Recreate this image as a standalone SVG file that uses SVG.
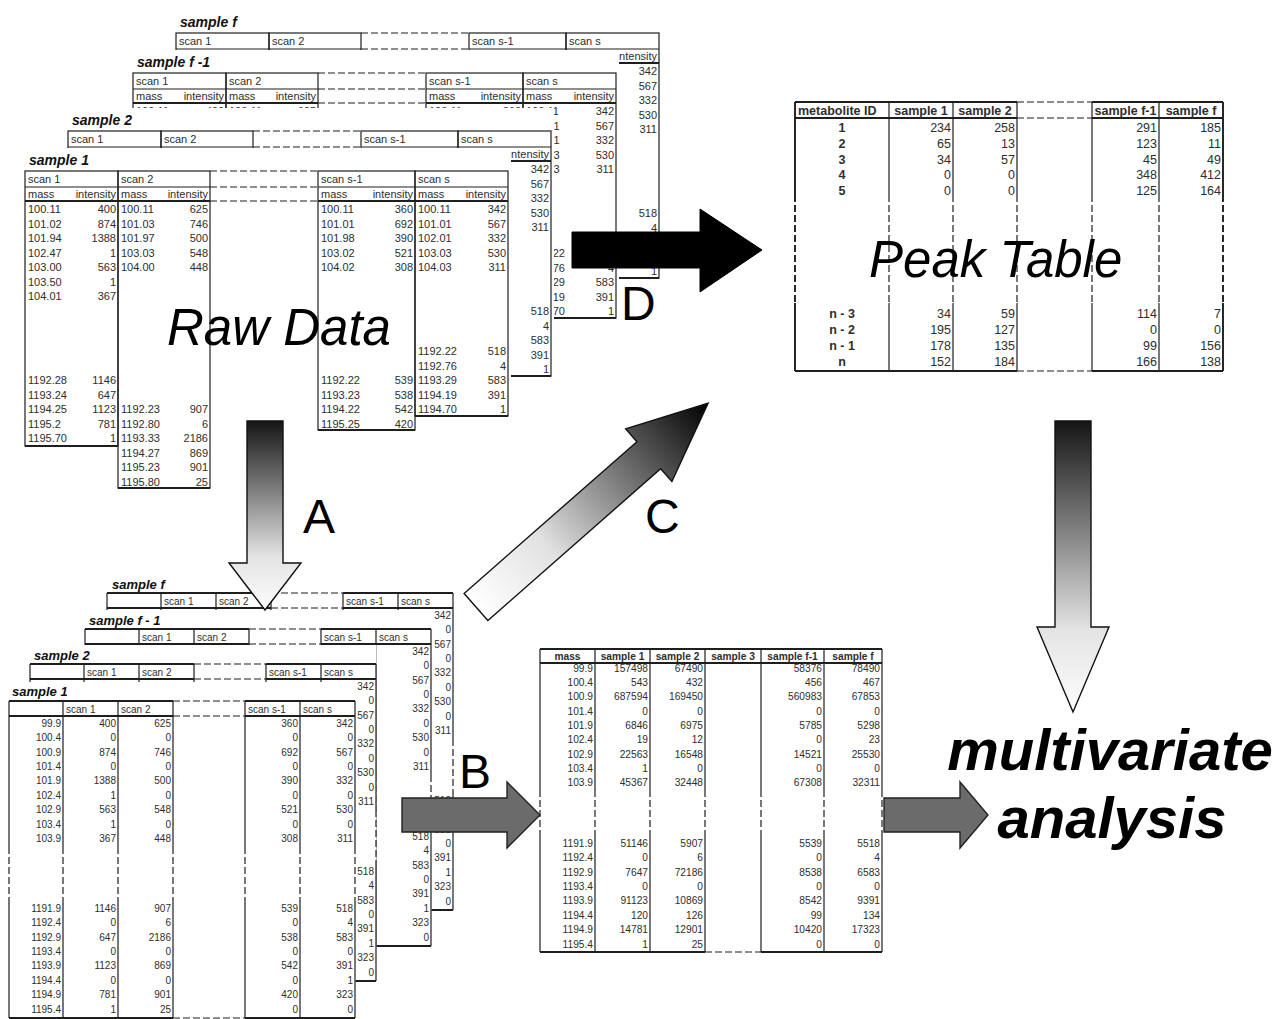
<svg xmlns="http://www.w3.org/2000/svg" width="1279" height="1019" viewBox="0 0 1279 1019">
<style>
.tx{font-family:"Liberation Sans",Arial,Helvetica,sans-serif;fill:#2e2e2e}
.rw{font-size:11px}
.al{font-size:10px}
.mt{font-size:10.2px}
.pk{font-size:12.5px}
.e{text-anchor:end}
.m{text-anchor:middle}
.b{font-weight:bold}
.ttl{font-family:"Liberation Sans",Arial,Helvetica,sans-serif;font-weight:bold;font-style:italic;fill:#111}
.ln{stroke:#1e1e1e;stroke-width:1.2;fill:none}
.th{stroke-width:1.9}
.ds{stroke-dasharray:7 3}
.cv{fill:#fff}
.big{font-family:"Liberation Sans",Arial,Helvetica,sans-serif;fill:#000}
.arw{stroke:#111;stroke-width:1.4}
</style>
<defs>
<linearGradient id="gDown" x1="0" y1="0" x2="0" y2="1">
<stop offset="0" stop-color="#151515"/>
<stop offset="0.72" stop-color="#e4e4e4"/>
<stop offset="1" stop-color="#fdfdfd"/>
</linearGradient>
<linearGradient id="gDiag" x1="0" y1="0" x2="1" y2="0">
<stop offset="0" stop-color="#ffffff"/>
<stop offset="0.3" stop-color="#e2e2e2"/>
<stop offset="1" stop-color="#000000"/>
</linearGradient>

<!-- one raw scan table (mass / intensity per scan) -->
<g id="rawTable">
<rect class="cv" x="-5" y="-23" width="491" height="343"/>
<g class="ln">
<rect x="0" y="0" width="93" height="275"/>
<rect x="93" y="0" width="92" height="317"/>
<rect x="293" y="0" width="97" height="259"/>
<rect x="390" y="0" width="93" height="245"/>
<path d="M0 16H185M293 16H483"/>
<path class="th" d="M0 30H185M293 30H483M0 275H93M93 317H185M293 259H390M390 245H483"/>
<path class="ds" d="M185 0H293M185 16H293M185 30H293"/>
</g>
<g class="tx rw">
<text x="3" y="12">scan 1</text>
<text x="96" y="12">scan 2</text>
<text x="296" y="12">scan s-1</text>
<text x="393" y="12">scan s</text>
<text x="3" y="27">mass</text><text class="e" x="91" y="27">intensity</text>
<text x="96" y="27">mass</text><text class="e" x="183" y="27">intensity</text>
<text x="296" y="27">mass</text><text class="e" x="388" y="27">intensity</text>
<text x="393" y="27">mass</text><text class="e" x="481" y="27">intensity</text>
<text><tspan x="3" y="42">100.11</tspan><tspan x="3" y="56.5">101.02</tspan><tspan x="3" y="71">101.94</tspan><tspan x="3" y="85.5">102.47</tspan><tspan x="3" y="100">103.00</tspan><tspan x="3" y="114.5">103.50</tspan><tspan x="3" y="129">104.01</tspan><tspan x="3" y="213">1192.28</tspan><tspan x="3" y="227.5">1193.24</tspan><tspan x="3" y="242">1194.25</tspan><tspan x="3" y="256.5">1195.2</tspan><tspan x="3" y="271">1195.70</tspan></text>
<text class="e"><tspan x="91" y="42">400</tspan><tspan x="91" y="56.5">874</tspan><tspan x="91" y="71">1388</tspan><tspan x="91" y="85.5">1</tspan><tspan x="91" y="100">563</tspan><tspan x="91" y="114.5">1</tspan><tspan x="91" y="129">367</tspan><tspan x="91" y="213">1146</tspan><tspan x="91" y="227.5">647</tspan><tspan x="91" y="242">1123</tspan><tspan x="91" y="256.5">781</tspan><tspan x="91" y="271">1</tspan></text>
<text><tspan x="96" y="42">100.11</tspan><tspan x="96" y="56.5">101.03</tspan><tspan x="96" y="71">101.97</tspan><tspan x="96" y="85.5">103.03</tspan><tspan x="96" y="100">104.00</tspan><tspan x="96" y="242">1192.23</tspan><tspan x="96" y="256.5">1192.80</tspan><tspan x="96" y="271">1193.33</tspan><tspan x="96" y="285.5">1194.27</tspan><tspan x="96" y="300">1195.23</tspan><tspan x="96" y="314.5">1195.80</tspan></text>
<text class="e"><tspan x="183" y="42">625</tspan><tspan x="183" y="56.5">746</tspan><tspan x="183" y="71">500</tspan><tspan x="183" y="85.5">548</tspan><tspan x="183" y="100">448</tspan><tspan x="183" y="242">907</tspan><tspan x="183" y="256.5">6</tspan><tspan x="183" y="271">2186</tspan><tspan x="183" y="285.5">869</tspan><tspan x="183" y="300">901</tspan><tspan x="183" y="314.5">25</tspan></text>
<text><tspan x="296" y="42">100.11</tspan><tspan x="296" y="56.5">101.01</tspan><tspan x="296" y="71">101.98</tspan><tspan x="296" y="85.5">103.02</tspan><tspan x="296" y="100">104.02</tspan><tspan x="296" y="213">1192.22</tspan><tspan x="296" y="227.5">1193.23</tspan><tspan x="296" y="242">1194.22</tspan><tspan x="296" y="256.5">1195.25</tspan></text>
<text class="e"><tspan x="388" y="42">360</tspan><tspan x="388" y="56.5">692</tspan><tspan x="388" y="71">390</tspan><tspan x="388" y="85.5">521</tspan><tspan x="388" y="100">308</tspan><tspan x="388" y="213">539</tspan><tspan x="388" y="227.5">538</tspan><tspan x="388" y="242">542</tspan><tspan x="388" y="256.5">420</tspan></text>
<text><tspan x="393" y="42">100.11</tspan><tspan x="393" y="56.5">101.01</tspan><tspan x="393" y="71">102.01</tspan><tspan x="393" y="85.5">103.03</tspan><tspan x="393" y="100">104.03</tspan><tspan x="393" y="184">1192.22</tspan><tspan x="393" y="198.5">1192.76</tspan><tspan x="393" y="213">1193.29</tspan><tspan x="393" y="227.5">1194.19</tspan><tspan x="393" y="242">1194.70</tspan></text>
<text class="e"><tspan x="481" y="42">342</tspan><tspan x="481" y="56.5">567</tspan><tspan x="481" y="71">332</tspan><tspan x="481" y="85.5">530</tspan><tspan x="481" y="100">311</tspan><tspan x="481" y="184">518</tspan><tspan x="481" y="198.5">4</tspan><tspan x="481" y="213">583</tspan><tspan x="481" y="227.5">391</tspan><tspan x="481" y="242">1</tspan></text>
</g>
</g>

<!-- one mass-binned table (rows = mass bins, columns = scans) -->
<g id="alTable">
<rect class="cv" x="-3" y="-19" width="349.5" height="337"/>
<g class="ln">
<path d="M0 0V146M54 0V146M109 0V146M164 0V146M236 0V146M291 0V146M346 0V146M0 196V317M54 196V317M109 196V317M164 196V317M236 196V317M291 196V317M346 196V317"/>
<path class="ds" d="M0 146V196M54 146V196M109 146V196M164 146V196M236 146V196M291 146V196M346 146V196M164 0H236M164 15H236M164 317H236"/>
<path class="th" d="M0 0H164M236 0H346M0 15H164M236 15H346M0 317H164M236 317H346"/>
</g>
<g class="tx al">
<text x="57" y="11.5">scan 1</text>
<text x="112" y="11.5">scan 2</text>
<text x="239" y="11.5">scan s-1</text>
<text x="294" y="11.5">scan s</text>
<text class="e"><tspan x="52" y="25.7">99.9</tspan><tspan x="52" y="40.1">100.4</tspan><tspan x="52" y="54.5">100.9</tspan><tspan x="52" y="68.9">101.4</tspan><tspan x="52" y="83.3">101.9</tspan><tspan x="52" y="97.7">102.4</tspan><tspan x="52" y="112.1">102.9</tspan><tspan x="52" y="126.5">103.4</tspan><tspan x="52" y="140.9">103.9</tspan><tspan x="52" y="210.7">1191.9</tspan><tspan x="52" y="225.1">1192.4</tspan><tspan x="52" y="239.5">1192.9</tspan><tspan x="52" y="253.9">1193.4</tspan><tspan x="52" y="268.3">1193.9</tspan><tspan x="52" y="282.7">1194.4</tspan><tspan x="52" y="297.1">1194.9</tspan><tspan x="52" y="311.5">1195.4</tspan></text>
<text class="e"><tspan x="107" y="25.7">400</tspan><tspan x="107" y="40.1">0</tspan><tspan x="107" y="54.5">874</tspan><tspan x="107" y="68.9">0</tspan><tspan x="107" y="83.3">1388</tspan><tspan x="107" y="97.7">1</tspan><tspan x="107" y="112.1">563</tspan><tspan x="107" y="126.5">1</tspan><tspan x="107" y="140.9">367</tspan><tspan x="107" y="210.7">1146</tspan><tspan x="107" y="225.1">0</tspan><tspan x="107" y="239.5">647</tspan><tspan x="107" y="253.9">0</tspan><tspan x="107" y="268.3">1123</tspan><tspan x="107" y="282.7">0</tspan><tspan x="107" y="297.1">781</tspan><tspan x="107" y="311.5">1</tspan></text>
<text class="e"><tspan x="162" y="25.7">625</tspan><tspan x="162" y="40.1">0</tspan><tspan x="162" y="54.5">746</tspan><tspan x="162" y="68.9">0</tspan><tspan x="162" y="83.3">500</tspan><tspan x="162" y="97.7">0</tspan><tspan x="162" y="112.1">548</tspan><tspan x="162" y="126.5">0</tspan><tspan x="162" y="140.9">448</tspan><tspan x="162" y="210.7">907</tspan><tspan x="162" y="225.1">6</tspan><tspan x="162" y="239.5">2186</tspan><tspan x="162" y="253.9">0</tspan><tspan x="162" y="268.3">869</tspan><tspan x="162" y="282.7">0</tspan><tspan x="162" y="297.1">901</tspan><tspan x="162" y="311.5">25</tspan></text>
<text class="e"><tspan x="289" y="25.7">360</tspan><tspan x="289" y="40.1">0</tspan><tspan x="289" y="54.5">692</tspan><tspan x="289" y="68.9">0</tspan><tspan x="289" y="83.3">390</tspan><tspan x="289" y="97.7">0</tspan><tspan x="289" y="112.1">521</tspan><tspan x="289" y="126.5">0</tspan><tspan x="289" y="140.9">308</tspan><tspan x="289" y="210.7">539</tspan><tspan x="289" y="225.1">0</tspan><tspan x="289" y="239.5">538</tspan><tspan x="289" y="253.9">0</tspan><tspan x="289" y="268.3">542</tspan><tspan x="289" y="282.7">0</tspan><tspan x="289" y="297.1">420</tspan><tspan x="289" y="311.5">0</tspan></text>
<text class="e"><tspan x="344" y="25.7">342</tspan><tspan x="344" y="40.1">0</tspan><tspan x="344" y="54.5">567</tspan><tspan x="344" y="68.9">0</tspan><tspan x="344" y="83.3">332</tspan><tspan x="344" y="97.7">0</tspan><tspan x="344" y="112.1">530</tspan><tspan x="344" y="126.5">0</tspan><tspan x="344" y="140.9">311</tspan><tspan x="344" y="210.7">518</tspan><tspan x="344" y="225.1">4</tspan><tspan x="344" y="239.5">583</tspan><tspan x="344" y="253.9">0</tspan><tspan x="344" y="268.3">391</tspan><tspan x="344" y="282.7">1</tspan><tspan x="344" y="297.1">323</tspan><tspan x="344" y="311.5">0</tspan></text>
</g>
</g>
</defs>

<rect width="1279" height="1019" fill="#fff"/>

<!-- raw data: one stacked table per sample, back to front -->
<g id="raw-sample-f"><use href="#rawTable" x="176" y="33"/><text class="ttl" x="180" y="27" font-size="14">sample f</text></g>
<g id="raw-sample-f-1"><use href="#rawTable" x="133" y="73"/><text class="ttl" x="137" y="67" font-size="14">sample f -1</text></g>
<g id="raw-sample-2"><use href="#rawTable" x="68" y="131"/><text class="ttl" x="72" y="125" font-size="14">sample 2</text></g>
<g id="raw-sample-1"><use href="#rawTable" x="25" y="171"/><text class="ttl" x="29" y="165" font-size="14">sample 1</text></g>
<text id="raw-label" class="big" x="167" y="345" font-size="51" font-style="italic">Raw Data</text>

<!-- binned data: one stacked table per sample, back to front -->
<g id="bin-sample-f"><use href="#alTable" x="107" y="593"/><text class="ttl" x="112" y="589" font-size="13">sample f</text></g>
<g id="bin-sample-f-1"><use href="#alTable" x="85" y="629"/><text class="ttl" x="89" y="625" font-size="13">sample f - 1</text></g>
<g id="bin-sample-2"><use href="#alTable" x="30" y="664"/><text class="ttl" x="34" y="660" font-size="13">sample 2</text></g>
<g id="bin-sample-1"><use href="#alTable" x="9" y="701"/><text class="ttl" x="12" y="696" font-size="13">sample 1</text></g>

<!-- aligned matrix: mass bins x samples -->
<g id="aligned-matrix">
<g class="ln">
<path d="M540 649V790M595 649V790M650 649V790M705 649V790M761 649V790M824 649V790M882 649V790M540 835V952M595 835V952M650 835V952M705 835V952M761 835V952M824 835V952M882 835V952"/>
<path class="ds" d="M540 790V835M595 790V835M650 790V835M705 790V835M761 790V835M824 790V835M882 790V835M705 952H761"/>
<path class="th" d="M540 649H882M540 663H882M540 952H705M761 952H882"/>
</g>
<g class="tx mt">
<g class="b m">
<text x="567.5" y="660">mass</text>
<text x="622.5" y="660">sample 1</text>
<text x="677.5" y="660">sample 2</text>
<text x="733" y="660">sample 3</text>
<text x="792.5" y="660">sample f-1</text>
<text x="853" y="660">sample f</text>
</g>
<text class="e"><tspan x="593" y="671.7">99.9</tspan><tspan x="593" y="686">100.4</tspan><tspan x="593" y="700.3">100.9</tspan><tspan x="593" y="714.6">101.4</tspan><tspan x="593" y="728.9">101.9</tspan><tspan x="593" y="743.2">102.4</tspan><tspan x="593" y="757.5">102.9</tspan><tspan x="593" y="771.8">103.4</tspan><tspan x="593" y="786.1">103.9</tspan><tspan x="593" y="846.7">1191.9</tspan><tspan x="593" y="861.1">1192.4</tspan><tspan x="593" y="875.5">1192.9</tspan><tspan x="593" y="889.9">1193.4</tspan><tspan x="593" y="904.3">1193.9</tspan><tspan x="593" y="918.7">1194.4</tspan><tspan x="593" y="933.1">1194.9</tspan><tspan x="593" y="947.5">1195.4</tspan></text>
<text class="e"><tspan x="648" y="671.7">157498</tspan><tspan x="648" y="686">543</tspan><tspan x="648" y="700.3">687594</tspan><tspan x="648" y="714.6">0</tspan><tspan x="648" y="728.9">6846</tspan><tspan x="648" y="743.2">19</tspan><tspan x="648" y="757.5">22563</tspan><tspan x="648" y="771.8">1</tspan><tspan x="648" y="786.1">45367</tspan><tspan x="648" y="846.7">51146</tspan><tspan x="648" y="861.1">0</tspan><tspan x="648" y="875.5">7647</tspan><tspan x="648" y="889.9">0</tspan><tspan x="648" y="904.3">91123</tspan><tspan x="648" y="918.7">120</tspan><tspan x="648" y="933.1">14781</tspan><tspan x="648" y="947.5">1</tspan></text>
<text class="e"><tspan x="703" y="671.7">67490</tspan><tspan x="703" y="686">432</tspan><tspan x="703" y="700.3">169450</tspan><tspan x="703" y="714.6">0</tspan><tspan x="703" y="728.9">6975</tspan><tspan x="703" y="743.2">12</tspan><tspan x="703" y="757.5">16548</tspan><tspan x="703" y="771.8">0</tspan><tspan x="703" y="786.1">32448</tspan><tspan x="703" y="846.7">5907</tspan><tspan x="703" y="861.1">6</tspan><tspan x="703" y="875.5">72186</tspan><tspan x="703" y="889.9">0</tspan><tspan x="703" y="904.3">10869</tspan><tspan x="703" y="918.7">126</tspan><tspan x="703" y="933.1">12901</tspan><tspan x="703" y="947.5">25</tspan></text>
<text class="e"><tspan x="822" y="671.7">58376</tspan><tspan x="822" y="686">456</tspan><tspan x="822" y="700.3">560983</tspan><tspan x="822" y="714.6">0</tspan><tspan x="822" y="728.9">5785</tspan><tspan x="822" y="743.2">0</tspan><tspan x="822" y="757.5">14521</tspan><tspan x="822" y="771.8">0</tspan><tspan x="822" y="786.1">67308</tspan><tspan x="822" y="846.7">5539</tspan><tspan x="822" y="861.1">0</tspan><tspan x="822" y="875.5">8538</tspan><tspan x="822" y="889.9">0</tspan><tspan x="822" y="904.3">8542</tspan><tspan x="822" y="918.7">99</tspan><tspan x="822" y="933.1">10420</tspan><tspan x="822" y="947.5">0</tspan></text>
<text class="e"><tspan x="880" y="671.7">78490</tspan><tspan x="880" y="686">467</tspan><tspan x="880" y="700.3">67853</tspan><tspan x="880" y="714.6">0</tspan><tspan x="880" y="728.9">5298</tspan><tspan x="880" y="743.2">23</tspan><tspan x="880" y="757.5">25530</tspan><tspan x="880" y="771.8">0</tspan><tspan x="880" y="786.1">32311</tspan><tspan x="880" y="846.7">5518</tspan><tspan x="880" y="861.1">4</tspan><tspan x="880" y="875.5">6583</tspan><tspan x="880" y="889.9">0</tspan><tspan x="880" y="904.3">9391</tspan><tspan x="880" y="918.7">134</tspan><tspan x="880" y="933.1">17323</tspan><tspan x="880" y="947.5">0</tspan></text>
</g>
</g>

<!-- peak table: metabolites x samples -->
<g id="peak-table">
<g class="ln">
<path d="M889 102V195M953 102V195M1017 102V195M1092 102V195M1159 102V195M889 303V371M953 303V371M1017 303V371M1092 303V371M1159 303V371"/>
<path class="th" d="M795 102V195M1223 102V195M795 303V371M1223 303V371M795 102H1017M1092 102H1223M795 118H1017M1092 118H1223M795 371H1017M1092 371H1223"/>
<path class="ds" d="M889 195V303M953 195V303M1017 195V303M1092 195V303M1159 195V303M1017 102H1092M1017 118H1092M1017 371H1092"/>
<path class="ds th" d="M795 195V303M1223 195V303"/>
</g>
<g class="tx pk">
<g class="b">
<text x="798" y="114.5">metabolite ID</text>
<text class="m" x="921" y="114.5">sample 1</text>
<text class="m" x="985" y="114.5">sample 2</text>
<text class="m" x="1125.5" y="114.5">sample f-1</text>
<text class="m" x="1191" y="114.5">sample f</text>
<text class="m"><tspan x="842" y="131.5">1</tspan><tspan x="842" y="147.5">2</tspan><tspan x="842" y="163.5">3</tspan><tspan x="842" y="179">4</tspan><tspan x="842" y="194.5">5</tspan><tspan x="842" y="317.5">n - 3</tspan><tspan x="842" y="333.5">n - 2</tspan><tspan x="842" y="349.5">n - 1</tspan><tspan x="842" y="365.5">n</tspan></text>
</g>
<text class="e"><tspan x="951" y="131.5">234</tspan><tspan x="951" y="147.5">65</tspan><tspan x="951" y="163.5">34</tspan><tspan x="951" y="179">0</tspan><tspan x="951" y="194.5">0</tspan><tspan x="951" y="317.5">34</tspan><tspan x="951" y="333.5">195</tspan><tspan x="951" y="349.5">178</tspan><tspan x="951" y="365.5">152</tspan></text>
<text class="e"><tspan x="1015" y="131.5">258</tspan><tspan x="1015" y="147.5">13</tspan><tspan x="1015" y="163.5">57</tspan><tspan x="1015" y="179">0</tspan><tspan x="1015" y="194.5">0</tspan><tspan x="1015" y="317.5">59</tspan><tspan x="1015" y="333.5">127</tspan><tspan x="1015" y="349.5">135</tspan><tspan x="1015" y="365.5">184</tspan></text>
<text class="e"><tspan x="1157" y="131.5">291</tspan><tspan x="1157" y="147.5">123</tspan><tspan x="1157" y="163.5">45</tspan><tspan x="1157" y="179">348</tspan><tspan x="1157" y="194.5">125</tspan><tspan x="1157" y="317.5">114</tspan><tspan x="1157" y="333.5">0</tspan><tspan x="1157" y="349.5">99</tspan><tspan x="1157" y="365.5">166</tspan></text>
<text class="e"><tspan x="1221" y="131.5">185</tspan><tspan x="1221" y="147.5">11</tspan><tspan x="1221" y="163.5">49</tspan><tspan x="1221" y="179">412</tspan><tspan x="1221" y="194.5">164</tspan><tspan x="1221" y="317.5">7</tspan><tspan x="1221" y="333.5">0</tspan><tspan x="1221" y="349.5">156</tspan><tspan x="1221" y="365.5">138</tspan></text>
</g>
<text class="big" x="869" y="277" font-size="51" font-style="italic">Peak Table</text>
</g>

<!-- processing steps -->
<g id="connectors">
<polygon class="arw" fill="url(#gDown)" points="247,421 283,421 283,563 301,563 265,610 229,563 247,563"/>
<polygon class="arw" fill="url(#gDown)" points="1055,421 1091,421 1091,627 1109,627 1073,712 1037,627 1055,627"/>
<polygon class="arw" fill="url(#gDiag)" transform="translate(476,607) rotate(-41.3)" points="0,-18 230,-18 230,-35 309,0 230,35 230,18 0,18"/>
<polygon fill="#000" stroke="#000" points="572,232 700,232 700,209 762,250 700,292 700,268 572,268"/>
<polygon fill="#6b6b6b" stroke="#222" stroke-width="1.4" points="402,798 507,798 507,782 540,815 507,848 507,832 402,832"/>
<polygon fill="#6b6b6b" stroke="#222" stroke-width="1.4" points="884,798 960,798 960,782 988,815 960,848 960,832 884,832"/>
</g>

<g id="step-labels" class="big" font-size="48">
<text x="303" y="533">A</text>
<text x="459" y="788">B</text>
<text x="645" y="533">C</text>
<text x="621" y="320">D</text>
</g>

<g id="analysis" class="big" font-size="58" font-weight="bold" font-style="italic" text-anchor="middle">
<text x="1110" y="770">multivariate</text>
<text x="1112" y="838">analysis</text>
</g>
</svg>
